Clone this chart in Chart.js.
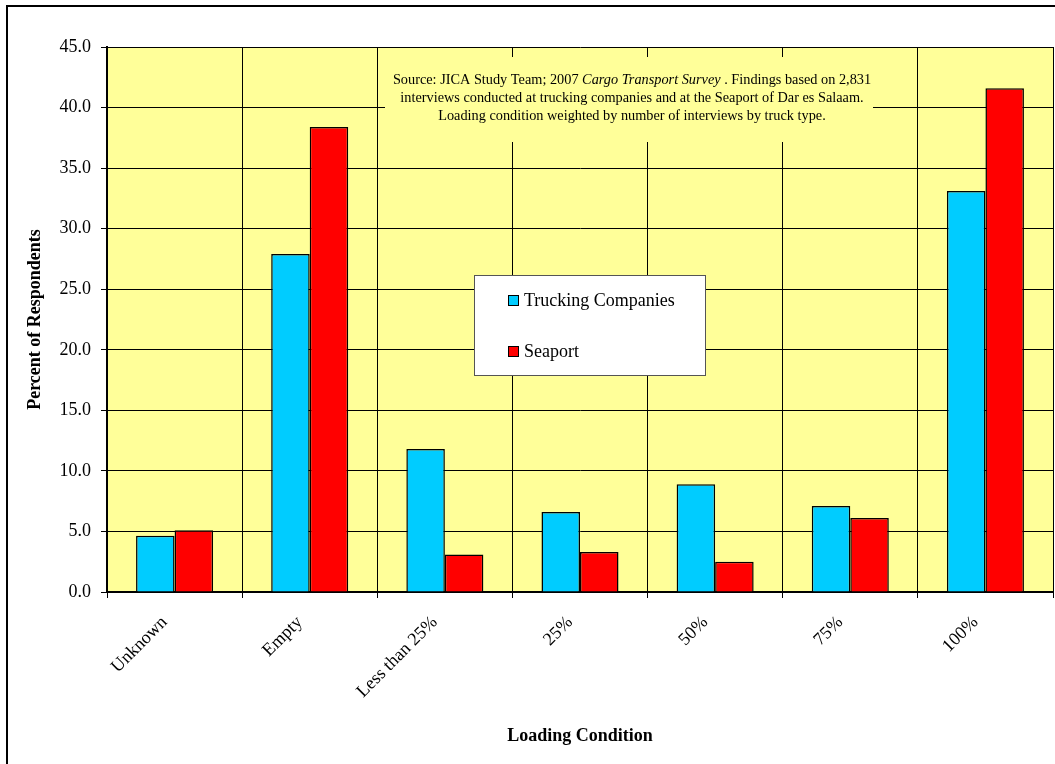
<!DOCTYPE html>
<html>
<head>
<meta charset="utf-8">
<script src="https://cdn.jsdelivr.net/npm/chart.js@4/dist/chart.umd.min.js"></script>
<style>
  html, body { margin: 0; padding: 0; background: #fff; }
  canvas { display: block; }
</style>
</head>
<body>
<canvas id="chart" width="1055" height="764"></canvas>
<script>
// data
const categories = ['Unknown', 'Empty', 'Less than 25%', '25%', '50%', '75%', '100%'];
const truckingValues = [4.65, 27.9, 11.8, 6.6, 8.9, 7.1, 33.1];
const seaportValues = [5.1, 38.4, 3.1, 3.3, 2.5, 6.1, 41.6];
const seriesNames = ['Trucking Companies', 'Seaport'];
const yTitle = 'Percent of Respondents';
const xTitle = 'Loading Condition';
// source note, each line is a list of [text, italic]
const noteLines = [
  [['Source: JICA Study Team; 2007 ', false], ['Cargo Transport Survey', true], [' . Findings based on 2,831', false]],
  [['interviews conducted at trucking companies and at the Seaport of Dar es Salaam.', false]],
  [['Loading condition weighted by number of interviews by truck type.', false]]
];

const FONT = "'Liberation Serif', 'Times New Roman', serif";

// yellow plot background + outer frame
const backgroundPlugin = {
  id: 'bg',
  beforeDraw(chart) {
    const { ctx, chartArea: a } = chart;
    ctx.save();
    ctx.fillStyle = '#FFFF99';
    ctx.fillRect(a.left, a.top, a.right - a.left, a.bottom - a.top);
    ctx.strokeStyle = '#000';
    ctx.lineWidth = 2;
    ctx.beginPath();
    ctx.moveTo(7, 764);
    ctx.lineTo(7, 6);
    ctx.lineTo(1055, 6);
    ctx.stroke();
    ctx.restore();
  }
};

// source note box and legend box
const overlayPlugin = {
  id: 'overlay',
  afterDatasetsDraw(chart) {
    const ctx = chart.ctx;
    ctx.save();
    // note
    ctx.fillStyle = '#FFFF99';
    ctx.fillRect(385, 57, 488, 85);
    ctx.fillStyle = '#000';
    ctx.textBaseline = 'middle';
    const size = 14.3;
    noteLines.forEach((parts, i) => {
      let total = 0;
      parts.forEach(p => {
        ctx.font = (p[1] ? 'italic ' : '') + size + 'px ' + FONT;
        total += ctx.measureText(p[0]).width;
      });
      let x = 632 - total / 2;
      const y = 80 + i * 18;
      ctx.textAlign = 'left';
      parts.forEach(p => {
        ctx.font = (p[1] ? 'italic ' : '') + size + 'px ' + FONT;
        ctx.fillText(p[0], x, y);
        x += ctx.measureText(p[0]).width;
      });
    });

    // legend
    ctx.fillStyle = '#fff';
    ctx.fillRect(474, 275, 232, 101);
    ctx.strokeStyle = '#555';
    ctx.lineWidth = 1;
    ctx.strokeRect(474.5, 275.5, 231, 100);
    chart.data.datasets.forEach((ds, i) => {
      const y = 300 + i * 51;
      ctx.fillStyle = ds.backgroundColor;
      ctx.fillRect(508, y - 5, 11, 11);
      ctx.strokeStyle = '#000';
      ctx.strokeRect(508.5, y - 4.5, 10, 10);
      ctx.fillStyle = '#000';
      ctx.font = '18px ' + FONT;
      ctx.textAlign = 'left';
      ctx.fillText(ds.label, 524, y + 1);
    });
    ctx.restore();
  }
};

const ctx = document.getElementById('chart').getContext('2d');
new Chart(ctx, {
  type: 'bar',
  data: {
    labels: categories,
    datasets: [
      {
        label: seriesNames[0],
        data: truckingValues,
        backgroundColor: '#00CCFF',
        borderColor: '#000',
        borderWidth: 1.5,
        barPercentage: 1.0,
        categoryPercentage: 0.57
      },
      {
        label: seriesNames[1],
        data: seaportValues,
        backgroundColor: '#FF0000',
        borderColor: '#000',
        borderWidth: 1.5,
        barPercentage: 1.0,
        categoryPercentage: 0.57
      }
    ]
  },
  options: {
    responsive: false,
    animation: false,
    layout: { padding: { left: 0, top: 47, right: 2, bottom: 0 } },
    plugins: {
      legend: { display: false },
      tooltip: { enabled: false }
    },
    scales: {
      x: {
        grid: { color: '#000', lineWidth: 1, offset: true, tickLength: 6 },
        border: { color: '#000', width: 2 },
        ticks: {
          color: '#000',
          font: { family: FONT, size: 18 },
          maxRotation: 45,
          minRotation: 45,
          padding: 14,
          labelOffset: -10
        },
        title: {
          display: true,
          text: xTitle,
          color: '#000',
          font: { family: FONT, size: 18, weight: 'bold' },
          padding: { top: 0, bottom: 17 }
        },
        afterFit(scale) { scale.height = 172; }
      },
      y: {
        min: 0,
        max: 45,
        grid: { color: '#000', lineWidth: 1, tickLength: 6 },
        border: { color: '#000', width: 2 },
        ticks: {
          stepSize: 5,
          color: '#000',
          font: { family: FONT, size: 18 },
          padding: 10,
          callback: v => v.toFixed(1)
        },
        title: {
          display: true,
          text: yTitle,
          color: '#000',
          font: { family: FONT, size: 18, weight: 'bold' },
          padding: { top: 25, bottom: 0 }
        },
        afterFit(scale) { scale.width = 107; }
      }
    }
  },
  plugins: [backgroundPlugin, overlayPlugin]
});
</script>
</body>
</html>
